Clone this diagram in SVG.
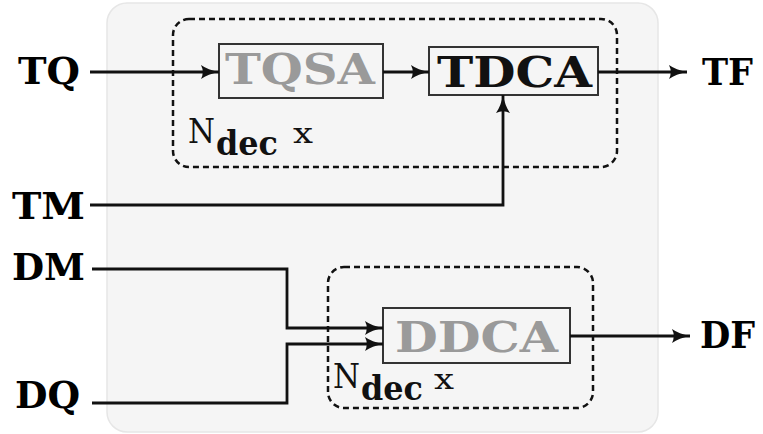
<svg xmlns="http://www.w3.org/2000/svg" width="763" height="434" viewBox="0 0 763 434">
<style>
text{font-family:"DejaVu Serif","Liberation Serif",serif}
.lbl{font-weight:bold;font-size:38px;fill:#000}
.box{fill:none;stroke:#333;stroke-width:2}
.btxt{font-weight:bold;font-size:42px}
.gray{fill:#9a9a9a}
.blk{fill:#111}
.dash{fill:none;stroke:#111;stroke-width:2.5;stroke-dasharray:6 4}
.wire{fill:none;stroke:#111;stroke-width:2.8}
.n{font-size:34px;fill:#111}
.x{font-size:28px;fill:#111}
.sub{font-size:34px;font-weight:bold;fill:#111}
</style>
<defs>
<marker id="arr" markerUnits="userSpaceOnUse" markerWidth="20" markerHeight="16" refX="18" refY="8" orient="auto">
<path d="M0,1 Q7,6 18,8 Q7,10 0,15 Q3.5,8 0,1 Z" fill="#111"/>
</marker>
</defs>
<rect x="107" y="3" width="551" height="429" rx="20" fill="#f5f5f5" stroke="#e6e6e6" stroke-width="1.5"/>
<g id="group-top">
<rect class="dash" x="173" y="19" width="444" height="148" rx="16"/>
<text class="n" x="188" y="143" textLength="27" lengthAdjust="spacingAndGlyphs">N</text><text class="sub" x="216" y="155" textLength="62" lengthAdjust="spacingAndGlyphs">dec</text><text class="x" x="293" y="143" textLength="20" lengthAdjust="spacingAndGlyphs">x</text>
</g>
<g id="group-bottom">
<rect class="dash" x="328" y="267" width="265" height="141" rx="16"/>
<text class="n" x="333" y="388" textLength="27" lengthAdjust="spacingAndGlyphs">N</text><text class="sub" x="361" y="400" textLength="62" lengthAdjust="spacingAndGlyphs">dec</text><text class="x" x="434" y="389" textLength="20" lengthAdjust="spacingAndGlyphs">x</text>
</g>
<g id="node-TQSA">
<rect class="box" x="219" y="44" width="164" height="54"/>
<text class="btxt gray" x="225" y="84" textLength="150" lengthAdjust="spacingAndGlyphs">TQSA</text>
</g>
<g id="node-TDCA">
<rect class="box" x="429" y="47" width="169" height="48"/>
<text class="btxt blk" x="437" y="87" textLength="155" lengthAdjust="spacingAndGlyphs">TDCA</text>
</g>
<g id="node-DDCA">
<rect class="box" x="383" y="308" width="187" height="55"/>
<text class="btxt gray" x="395" y="352" textLength="163" lengthAdjust="spacingAndGlyphs">DDCA</text>
</g>
<g id="node-TQ"><text class="lbl" x="18" y="84" textLength="62" lengthAdjust="spacingAndGlyphs">TQ</text></g>
<g id="node-TM"><text class="lbl" x="12" y="219" textLength="73" lengthAdjust="spacingAndGlyphs">TM</text></g>
<g id="node-DM"><text class="lbl" x="12" y="280" textLength="73" lengthAdjust="spacingAndGlyphs">DM</text></g>
<g id="node-DQ"><text class="lbl" x="15" y="408" textLength="65" lengthAdjust="spacingAndGlyphs">DQ</text></g>
<g id="node-TF"><text class="lbl" x="702" y="85" textLength="51" lengthAdjust="spacingAndGlyphs">TF</text></g>
<g id="node-DF"><text class="lbl" x="700" y="348" textLength="55" lengthAdjust="spacingAndGlyphs">DF</text></g>
<g id="connectors">
<path class="wire" d="M90,72 H219" marker-end="url(#arr)"/>
<path class="wire" d="M383,72 H429" marker-end="url(#arr)"/>
<path class="wire" d="M598,72 H687" marker-end="url(#arr)"/>
<path class="wire" d="M90,205 H503 V95" marker-end="url(#arr)"/>
<path class="wire" d="M92,269 H287 V328 H383" marker-end="url(#arr)"/>
<path class="wire" d="M92,403 H287 V344 H383" marker-end="url(#arr)"/>
<path class="wire" d="M570,336 H690" marker-end="url(#arr)"/>
</g>
</svg>
